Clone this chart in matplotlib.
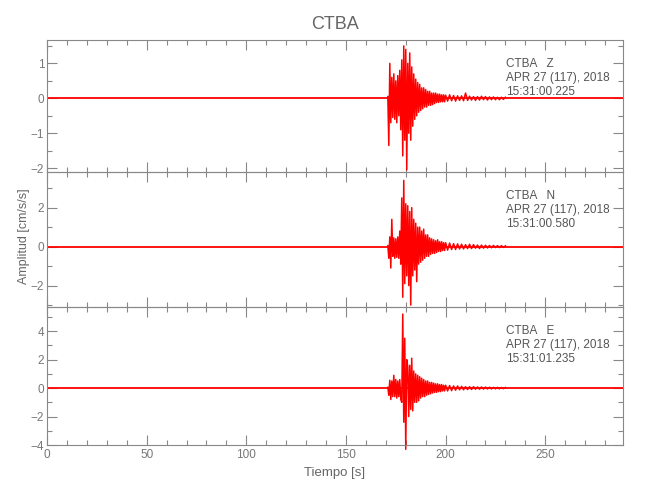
import numpy as np
import matplotlib
matplotlib.use('Agg')
import matplotlib.pyplot as plt
from matplotlib.ticker import MultipleLocator

# ---- datos ----
estacion = 'CTBA'
componentes = ['Z', 'N', 'E']
fecha = 'APR 27 (117), 2018'
horas = ['15:31:00.225', '15:31:00.580', '15:31:01.235']
t_fin = 289.0

# fase fuerte: muestras cada 0.5 s desde 171.0 s
t0_fuerte = 171.0
z_fuerte = [0.05, -1.35, 1.0, -0.7, 0.6, -0.55, 0.7, -0.6, 0.5, -0.7,
            0.65, -0.5, 0.8, -0.9, 1.1, -1.65, 1.5, -1.2, 1.4, -2.05,
            1.0, -1.0, 1.3, -1.2, 0.9, -0.8, 0.7, -0.6, 0.55, -0.5,
            0.45, -0.4, 0.4, -0.35, 0.3, -0.3, 0.3, -0.25, 0.25, -0.25,
            0.2, -0.2, 0.2, -0.2, 0.15, -0.18, 0.15, -0.15, 0.15, -0.12,
            0.12, -0.12, 0.12, -0.1, 0.1, -0.1, 0.1, -0.1]
n_fuerte = [0.05, -0.6, 0.5, -1.1, 1.4, -0.5, 0.45, -0.6, 0.4, -0.55,
            0.5, -0.6, 0.8, -0.9, 2.5, -2.6, 3.4, -1.9, 2.2, -1.5,
            2.1, -2.0, 1.8, -3.0, 2.0, -1.5, 1.4, -1.2, 1.2, -1.8,
            1.0, -0.9, 1.0, -0.8, 0.8, -0.7, 0.9, -0.6, 0.6, -0.5,
            0.6, -0.5, 0.45, -0.4, 0.4, -0.35, 0.35, -0.35, 0.3, -0.3,
            0.35, -0.25, 0.25, -0.25, 0.25, -0.2, 0.2, -0.2]
e_fuerte = [0.05, -0.5, 0.55, -0.8, 0.5, -0.6, 0.9, -0.6, 0.6, -0.7,
            0.5, -0.6, 0.6, -0.8, -1.0, 5.2, -2.4, 3.5, -4.3, 2.0,
            1.5, -2.0, 1.6, -1.5, 2.1, -1.6, 1.2, -1.0, 1.0, -1.0,
            0.9, -0.9, 0.8, -0.7, 0.7, -0.6, 0.6, -0.6, 0.5, -0.5,
            0.5, -0.45, 0.4, -0.4, 0.4, -0.35, 0.35, -0.3, 0.3, -0.3,
            0.3, -0.25, 0.25, -0.25, 0.25, -0.2, 0.2, -0.2]

# coda: muestras cada 1 s desde 200 s
t0_coda = 200.0
z_coda = [0.09, -0.08, 0.1, -0.07, 0.08, -0.08, 0.07, -0.06, 0.07, -0.07,
          0.15, -0.06, 0.06, -0.05, 0.05, -0.06, 0.05, -0.05, 0.06, -0.04,
          0.05, -0.05, 0.04, -0.04, 0.04, -0.04, 0.03, -0.04, 0.03, -0.03, 0.03]
n_coda = [0.2, -0.18, 0.18, -0.15, 0.15, -0.15, 0.14, -0.12, 0.12, -0.12,
          0.1, -0.1, 0.12, -0.1, 0.1, -0.08, 0.08, -0.1, 0.08, -0.08,
          0.07, -0.07, 0.06, -0.06, 0.06, -0.05, 0.05, -0.05, 0.05, -0.04, 0.04]
e_coda = [0.2, -0.2, 0.18, -0.18, 0.15, -0.15, 0.15, -0.12, 0.12, -0.12,
          0.1, -0.1, 0.1, -0.1, 0.1, -0.08, 0.08, -0.08, 0.08, -0.07,
          0.07, -0.06, 0.06, -0.06, 0.05, -0.05, 0.05, -0.05, 0.04, -0.04, 0.04]

fuerte = [z_fuerte, n_fuerte, e_fuerte]
coda = [z_coda, n_coda, e_coda]
ylims = [(-2.11, 1.67), (-3.1, 3.83), (-4.0, 5.7)]
ymajor = [1, 2, 2]
yminor = [0.5, 1, 1]

# ---- figura ----
plt.rcParams['font.family'] = ['Liberation Sans Narrow', 'Liberation Sans', 'DejaVu Sans']
gris = '#888888'
W, H = 650, 500
fig = plt.figure(figsize=(6.5, 5), dpi=100)

# limites de paneles en pixeles (arriba, abajo)
paneles = [(40, 172), (172, 307), (307, 445)]
x_izq, x_der = 47, 623

for i in range(3):
    top, bot = paneles[i]
    ax = fig.add_axes([x_izq / W, 1 - bot / H, (x_der - x_izq) / W, (bot - top) / H])
    t = np.concatenate([t0_fuerte + 0.5 * np.arange(len(fuerte[i])),
                        t0_coda + np.arange(len(coda[i]))])
    y = np.concatenate([fuerte[i], coda[i]])
    ax.plot([0, t_fin], [0, 0], color='red', lw=1.3, solid_capstyle='butt')
    ax.plot(t, y, color='red', lw=1.1, clip_on=False)
    ax.set_xlim(0, t_fin)
    ax.set_ylim(*ylims[i])
    ax.xaxis.set_major_locator(MultipleLocator(50))
    ax.xaxis.set_minor_locator(MultipleLocator(10))
    ax.yaxis.set_major_locator(MultipleLocator(ymajor[i]))
    ax.yaxis.set_minor_locator(MultipleLocator(yminor[i]))
    ax.tick_params(which='both', direction='in', top=True, right=True,
                   color=gris, labelcolor='#777777', labelsize=8.5, width=0.8)
    ax.tick_params(which='major', length=7, pad=2)
    ax.tick_params(which='minor', length=3.5)
    ax.tick_params(axis='x', pad=3)
    for s in ax.spines.values():
        s.set_color(gris)
        s.set_linewidth(0.8)
    ax.set_facecolor('none')
    if i < 2:
        ax.set_xticklabels([])
    else:
        ax.set_xlabel('Tiempo [s]', color='#666666', fontsize=9.5, labelpad=4)
    lineas = [estacion + '   ' + componentes[i], fecha, horas[i]]
    for k, txt in enumerate(lineas):
        ax.annotate(txt, xy=(0.797, 1), xycoords='axes fraction',
                    xytext=(0, -19.1 - 10.2 * k), textcoords='offset points',
                    va='baseline', ha='left', fontsize=8.5, color='#555555')

fig.text(335 / W, 1 - 29 / H, estacion, ha='center', va='baseline',
         fontsize=13, color='#666666')
fig.text(24 / W, 1 - 236 / H, 'Amplitud [cm/s/s]', rotation=90, ha='center',
         va='center', fontsize=9, color='#666666')

plt.savefig('out.png', dpi=100)
